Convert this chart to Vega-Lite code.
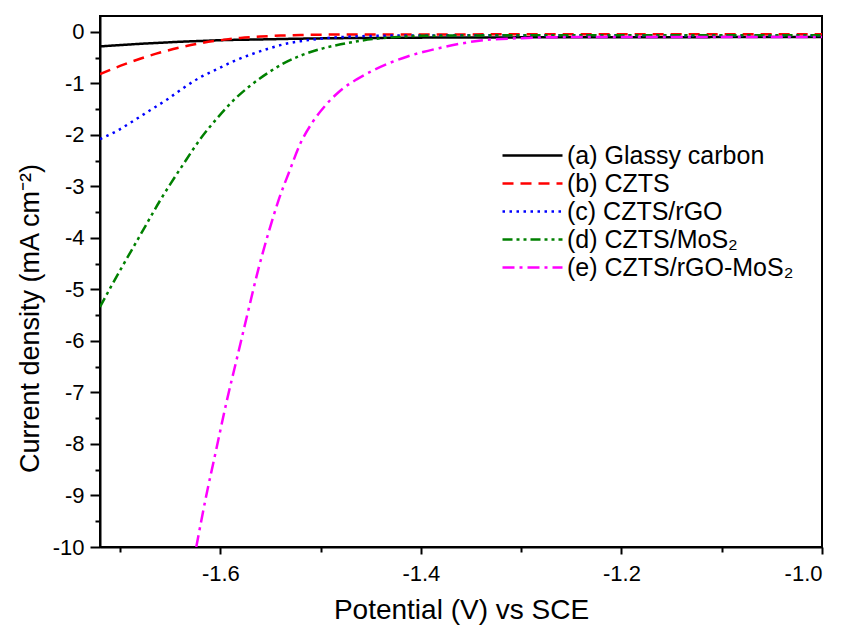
{
  "$schema": "https://vega.github.io/schema/vega-lite/v6.json",
  "width": 722,
  "height": 531,
  "autosize": {"type": "none"},
  "padding": {"left": 100, "top": 16, "right": 23, "bottom": 90},
  "background": "white",
  "config": {
    "font": "Liberation Sans",
    "view": {"stroke": "black", "strokeWidth": 2},
    "axis": {
      "domainColor": "black", "domainWidth": 2,
      "tickColor": "black", "tickWidth": 2,
      "labelColor": "black", "titleColor": "black",
      "labelFont": "Liberation Sans", "titleFont": "Liberation Sans",
      "titleFontWeight": "normal", "grid": false
    },
    "legend": {"labelFont": "Liberation Sans", "labelColor": "black"}
  },
  "data": {
    "values": [
      {"s": "(a) Glassy carbon", "v": -1.72, "j": -0.28},
      {"s": "(a) Glassy carbon", "v": -1.70, "j": -0.255},
      {"s": "(a) Glassy carbon", "v": -1.68, "j": -0.23},
      {"s": "(a) Glassy carbon", "v": -1.66, "j": -0.21},
      {"s": "(a) Glassy carbon", "v": -1.64, "j": -0.19},
      {"s": "(a) Glassy carbon", "v": -1.62, "j": -0.175},
      {"s": "(a) Glassy carbon", "v": -1.60, "j": -0.16},
      {"s": "(a) Glassy carbon", "v": -1.56, "j": -0.145},
      {"s": "(a) Glassy carbon", "v": -1.52, "j": -0.13},
      {"s": "(a) Glassy carbon", "v": -1.48, "j": -0.12},
      {"s": "(a) Glassy carbon", "v": -1.44, "j": -0.115},
      {"s": "(a) Glassy carbon", "v": -1.40, "j": -0.11},
      {"s": "(a) Glassy carbon", "v": -1.30, "j": -0.105},
      {"s": "(a) Glassy carbon", "v": -1.20, "j": -0.105},
      {"s": "(a) Glassy carbon", "v": -1.10, "j": -0.1},
      {"s": "(a) Glassy carbon", "v": -1.00, "j": -0.1},

      {"s": "(b) CZTS", "v": -1.72, "j": -0.82},
      {"s": "(b) CZTS", "v": -1.70, "j": -0.66},
      {"s": "(b) CZTS", "v": -1.68, "j": -0.52},
      {"s": "(b) CZTS", "v": -1.66, "j": -0.40},
      {"s": "(b) CZTS", "v": -1.64, "j": -0.30},
      {"s": "(b) CZTS", "v": -1.62, "j": -0.22},
      {"s": "(b) CZTS", "v": -1.60, "j": -0.16},
      {"s": "(b) CZTS", "v": -1.58, "j": -0.115},
      {"s": "(b) CZTS", "v": -1.56, "j": -0.09},
      {"s": "(b) CZTS", "v": -1.54, "j": -0.07},
      {"s": "(b) CZTS", "v": -1.52, "j": -0.06},
      {"s": "(b) CZTS", "v": -1.48, "j": -0.05},
      {"s": "(b) CZTS", "v": -1.40, "j": -0.05},
      {"s": "(b) CZTS", "v": -1.30, "j": -0.045},
      {"s": "(b) CZTS", "v": -1.20, "j": -0.045},
      {"s": "(b) CZTS", "v": -1.10, "j": -0.045},
      {"s": "(b) CZTS", "v": -1.00, "j": -0.045},

      {"s": "(c) CZTS/rGO", "v": -1.72, "j": -2.08},
      {"s": "(c) CZTS/rGO", "v": -1.703, "j": -1.92},
      {"s": "(c) CZTS/rGO", "v": -1.687, "j": -1.73},
      {"s": "(c) CZTS/rGO", "v": -1.67, "j": -1.52},
      {"s": "(c) CZTS/rGO", "v": -1.653, "j": -1.31},
      {"s": "(c) CZTS/rGO", "v": -1.637, "j": -1.09},
      {"s": "(c) CZTS/rGO", "v": -1.62, "j": -0.88},
      {"s": "(c) CZTS/rGO", "v": -1.603, "j": -0.72},
      {"s": "(c) CZTS/rGO", "v": -1.587, "j": -0.57},
      {"s": "(c) CZTS/rGO", "v": -1.57, "j": -0.44},
      {"s": "(c) CZTS/rGO", "v": -1.553, "j": -0.33},
      {"s": "(c) CZTS/rGO", "v": -1.537, "j": -0.24},
      {"s": "(c) CZTS/rGO", "v": -1.52, "j": -0.18},
      {"s": "(c) CZTS/rGO", "v": -1.50, "j": -0.13},
      {"s": "(c) CZTS/rGO", "v": -1.48, "j": -0.10},
      {"s": "(c) CZTS/rGO", "v": -1.45, "j": -0.077},
      {"s": "(c) CZTS/rGO", "v": -1.40, "j": -0.067},
      {"s": "(c) CZTS/rGO", "v": -1.30, "j": -0.065},
      {"s": "(c) CZTS/rGO", "v": -1.20, "j": -0.065},
      {"s": "(c) CZTS/rGO", "v": -1.10, "j": -0.07},
      {"s": "(c) CZTS/rGO", "v": -1.00, "j": -0.07},

      {"s": "(d) CZTS/MoS₂", "v": -1.72, "j": -5.34},
      {"s": "(d) CZTS/MoS₂", "v": -1.71, "j": -4.98},
      {"s": "(d) CZTS/MoS₂", "v": -1.70, "j": -4.63},
      {"s": "(d) CZTS/MoS₂", "v": -1.68, "j": -3.95},
      {"s": "(d) CZTS/MoS₂", "v": -1.66, "j": -3.27},
      {"s": "(d) CZTS/MoS₂", "v": -1.637, "j": -2.57},
      {"s": "(d) CZTS/MoS₂", "v": -1.62, "j": -2.08},
      {"s": "(d) CZTS/MoS₂", "v": -1.603, "j": -1.67},
      {"s": "(d) CZTS/MoS₂", "v": -1.587, "j": -1.33},
      {"s": "(d) CZTS/MoS₂", "v": -1.57, "j": -1.04},
      {"s": "(d) CZTS/MoS₂", "v": -1.553, "j": -0.80},
      {"s": "(d) CZTS/MoS₂", "v": -1.537, "j": -0.61},
      {"s": "(d) CZTS/MoS₂", "v": -1.52, "j": -0.46},
      {"s": "(d) CZTS/MoS₂", "v": -1.50, "j": -0.33},
      {"s": "(d) CZTS/MoS₂", "v": -1.48, "j": -0.24},
      {"s": "(d) CZTS/MoS₂", "v": -1.46, "j": -0.17},
      {"s": "(d) CZTS/MoS₂", "v": -1.43, "j": -0.105},
      {"s": "(d) CZTS/MoS₂", "v": -1.40, "j": -0.075},
      {"s": "(d) CZTS/MoS₂", "v": -1.30, "j": -0.065},
      {"s": "(d) CZTS/MoS₂", "v": -1.20, "j": -0.065},
      {"s": "(d) CZTS/MoS₂", "v": -1.10, "j": -0.065},
      {"s": "(d) CZTS/MoS₂", "v": -1.00, "j": -0.065},

      {"s": "(e) CZTS/rGO-MoS₂", "v": -1.624, "j": -10},
      {"s": "(e) CZTS/rGO-MoS₂", "v": -1.614, "j": -9.0},
      {"s": "(e) CZTS/rGO-MoS₂", "v": -1.604, "j": -8.1},
      {"s": "(e) CZTS/rGO-MoS₂", "v": -1.594, "j": -7.2},
      {"s": "(e) CZTS/rGO-MoS₂", "v": -1.583, "j": -6.3},
      {"s": "(e) CZTS/rGO-MoS₂", "v": -1.572, "j": -5.4},
      {"s": "(e) CZTS/rGO-MoS₂", "v": -1.562, "j": -4.6},
      {"s": "(e) CZTS/rGO-MoS₂", "v": -1.552, "j": -3.9},
      {"s": "(e) CZTS/rGO-MoS₂", "v": -1.542, "j": -3.27},
      {"s": "(e) CZTS/rGO-MoS₂", "v": -1.531, "j": -2.7},
      {"s": "(e) CZTS/rGO-MoS₂", "v": -1.521, "j": -2.2},
      {"s": "(e) CZTS/rGO-MoS₂", "v": -1.508, "j": -1.75},
      {"s": "(e) CZTS/rGO-MoS₂", "v": -1.494, "j": -1.40},
      {"s": "(e) CZTS/rGO-MoS₂", "v": -1.481, "j": -1.15},
      {"s": "(e) CZTS/rGO-MoS₂", "v": -1.464, "j": -0.92},
      {"s": "(e) CZTS/rGO-MoS₂", "v": -1.448, "j": -0.75},
      {"s": "(e) CZTS/rGO-MoS₂", "v": -1.431, "j": -0.60},
      {"s": "(e) CZTS/rGO-MoS₂", "v": -1.414, "j": -0.48},
      {"s": "(e) CZTS/rGO-MoS₂", "v": -1.398, "j": -0.39},
      {"s": "(e) CZTS/rGO-MoS₂", "v": -1.381, "j": -0.31},
      {"s": "(e) CZTS/rGO-MoS₂", "v": -1.364, "j": -0.24},
      {"s": "(e) CZTS/rGO-MoS₂", "v": -1.338, "j": -0.16},
      {"s": "(e) CZTS/rGO-MoS₂", "v": -1.30, "j": -0.12},
      {"s": "(e) CZTS/rGO-MoS₂", "v": -1.26, "j": -0.10},
      {"s": "(e) CZTS/rGO-MoS₂", "v": -1.20, "j": -0.10},
      {"s": "(e) CZTS/rGO-MoS₂", "v": -1.10, "j": -0.10},
      {"s": "(e) CZTS/rGO-MoS₂", "v": -1.00, "j": -0.10}
    ]
  },
  "resolve": {"axis": {"x": "independent", "y": "independent"}},
  "layer": [
    {
      "mark": {"type": "line", "strokeWidth": 2.5, "clip": true, "interpolate": "monotone"},
      "encoding": {
        "x": {
          "field": "v", "type": "quantitative",
          "scale": {"domain": [-1.72, -1.0], "nice": false, "zero": false},
          "axis": {
            "orient": "bottom",
            "values": [-1.6, -1.4, -1.2, -1.0],
            "labelExpr": "'-' + format(-datum.value, '.1f')",
            "tickSize": 7, "labelPadding": 9, "labelFontSize": 22,
            "title": "Potential (V) vs SCE", "titleFontSize": 28,
            "titlePadding": 12
          }
        },
        "y": {
          "field": "j", "type": "quantitative",
          "scale": {"domain": [-10, 0.31], "nice": false, "zero": false},
          "axis": {
            "orient": "left",
            "values": [0, -1, -2, -3, -4, -5, -6, -7, -8, -9, -10],
            "labelExpr": "datum.value < 0 ? '-' + format(-datum.value, 'd') : '0'",
            "tickSize": 10, "labelPadding": 6, "labelFontSize": 22,
            "title": "Current density (mA cm⁻²)", "titleFontSize": 27,
            "titleX": -62, "titleY": 302, "titleBaseline": "alphabetic"
          }
        },
        "color": {
          "field": "s", "type": "nominal",
          "scale": {
            "domain": ["(a) Glassy carbon", "(b) CZTS", "(c) CZTS/rGO", "(d) CZTS/MoS₂", "(e) CZTS/rGO-MoS₂"],
            "range": ["#000000", "#FF0000", "#0000FF", "#008000", "#FF00FF"]
          },
          "legend": {
            "title": null, "orient": "none", "legendX": 420, "legendY": 127,
            "symbolType": "M-3,0H3", "symbolSize": 400, "symbolStrokeWidth": 2.5,
            "labelOffset": 22, "labelFontSize": 25, "labelLimit": 0, "rowPadding": 2
          }
        },
        "strokeDash": {
          "field": "s", "type": "nominal",
          "scale": {
            "domain": ["(a) Glassy carbon", "(b) CZTS", "(c) CZTS/rGO", "(d) CZTS/MoS₂", "(e) CZTS/rGO-MoS₂"],
            "range": [[1, 0], [11, 7], [2.5, 4.5], [10, 4, 3, 4, 3, 4], [12, 5, 3, 5]]
          },
          "legend": null
        }
      }
    },
    {
      "mark": {"type": "line", "opacity": 0},
      "encoding": {
        "x": {
          "field": "v", "type": "quantitative",
          "axis": {
            "orient": "bottom", "values": [-1.7, -1.5, -1.3, -1.1],
            "labels": false, "domain": false, "tickSize": 5, "title": null
          }
        },
        "y": {
          "field": "j", "type": "quantitative",
          "axis": {
            "orient": "left",
            "values": [-0.5, -1.5, -2.5, -3.5, -4.5, -5.5, -6.5, -7.5, -8.5, -9.5],
            "labels": false, "domain": false, "tickSize": 5, "title": null
          }
        },
        "detail": {"field": "s", "type": "nominal"}
      }
    }
  ]
}
